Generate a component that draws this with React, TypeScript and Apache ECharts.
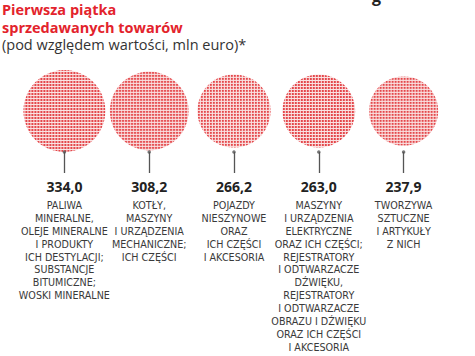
import React, { useEffect, useRef } from "react";
import * as echarts from "echarts";

const titleLines = ["Pierwsza piątka", "sprzedawanych towarów"];
const subtitle = "(pod względem wartości, mln euro)*";

const categories = [
  "PALIWA\nMINERALNE,\nOLEJE MINERALNE\nI PRODUKTY\nICH DESTYLACJI;\nSUBSTANCJE\nBITUMICZNE;\nWOSKI MINERALNE",
  "KOTŁY,\nMASZYNY\nI URZĄDZENIA\nMECHANICZNE;\nICH CZĘŚCI",
  "POJAZDY\nNIESZYNOWE\nORAZ\nICH CZĘŚCI\nI AKCESORIA",
  "MASZYNY\nI URZĄDZENIA\nELEKTRYCZNE\nORAZ ICH CZĘŚCI;\nREJESTRATORY\nI ODTWARZACZE\nDŹWIĘKU,\nREJESTRATORY\nI ODTWARZACZE\nOBRAZU I DŹWIĘKU\nORAZ ICH CZĘŚCI\nI AKCESORIA",
  "TWORZYWA\nSZTUCZNE\nI ARTYKUŁY\nZ NICH",
];
const values = [334.0, 308.2, 266.2, 263.0, 237.9];

const RED = "#e3232c";
const FONT = "'Open Sans', 'Noto Sans', sans-serif";
const LABEL_FONT = "'DejaVu Sans', 'Open Sans', sans-serif";

const fmt = (v: number) => v.toFixed(1).replace(".", ",");

function makeDots() {
  const c = document.createElement("canvas");
  c.width = 3;
  c.height = 3;
  const ctx = c.getContext("2d")!;
  ctx.fillStyle = "#fae3e3";
  ctx.fillRect(0, 0, 3, 3);
  ctx.fillStyle = "#e4474b";
  ctx.fillRect(0, 0, 2, 2);
  return c;
}

export default function App() {
  const ref = useRef<HTMLDivElement>(null);
  useEffect(() => {
    if (!ref.current) return;
    const chart = echarts.init(ref.current, null, { renderer: "svg" });
    const k = 82 / Math.sqrt(values[0]);
    const dots = makeDots();
    const sizeOf = (v: number) => k * Math.sqrt(v);
    chart.setOption({
      animation: false,
      backgroundColor: "#ffffff",
      textStyle: { fontFamily: FONT },
      title: {
        left: 2,
        top: 1,
        text: titleLines.join("\n"),
        subtext: subtitle,
        itemGap: 0,
        padding: 0,
        textStyle: {
          fontFamily: FONT,
          fontSize: 14.5,
          fontWeight: "bold",
          color: RED,
          lineHeight: 17.5,
        },
        subtextStyle: {
          fontFamily: FONT,
          fontSize: 14.5,
          color: "#333",
          lineHeight: 17.5,
        },
      },
      graphic: [
        {
          type: "text",
          left: 372,
          top: -12,
          style: { text: "g", fill: "#222", font: "bold 16px 'Open Sans'" },
        },
      ],
      grid: { left: 22, right: 29, top: 70, bottom: 204 },
      xAxis: {
        type: "category",
        data: categories,
        axisLine: { show: false },
        axisTick: {
          show: true,
          alignWithLabel: true,
          length: 21,
          lineStyle: { color: "#555", width: 1.3 },
        },
        axisLabel: {
          interval: 0,
          margin: 21,
          formatter: (val: string, idx: number) =>
            `{v|${fmt(values[idx])}}\n` +
            val
              .split("\n")
              .map((l) => `{c|${l}}`)
              .join("\n"),
          rich: {
            v: {
              fontFamily: FONT,
              fontSize: 14,
              fontWeight: "bold",
              color: "#222",
              lineHeight: 26,
            },
            c: {
              fontFamily: LABEL_FONT,
              fontSize: 9.6,
              color: "#3a3a3a",
              lineHeight: 12.9,
            },
          },
        },
      },
      yAxis: { type: "value", min: 0, max: 1, show: false },
      series: [
        {
          type: "scatter",
          data: values.map((v, i) => {
            const s = 2 / sizeOf(v);
            return {
              value: [i, 0.5, v],
              itemStyle: {
                color: {
                  image: dots,
                  repeat: "repeat",
                  imageWidth: 3,
                  imageHeight: 3,
                  scaleX: s,
                  scaleY: s,
                },
              },
            };
          }),
          symbol: "circle",
          symbolSize: (d: number[]) => sizeOf(d[2]),
          itemStyle: { opacity: 1 },
          silent: true,
        },
        {
          type: "scatter",
          data: values.map((_, i) => [i, 0]),
          symbol: "circle",
          symbolSize: 3.5,
          itemStyle: { color: "#555" },
          clip: false,
          silent: true,
        },
      ],
    });
    return () => chart.dispose();
  }, []);
  return (
    <div
      ref={ref}
      style={{ position: "fixed", left: 0, top: 0, width: 475, height: 356 }}
    />
  );
}
